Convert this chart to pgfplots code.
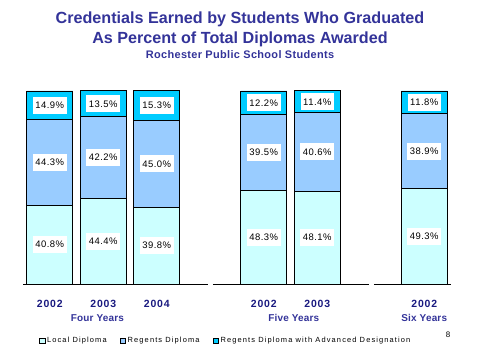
\documentclass[border=0pt]{standalone}
\usepackage{pgfplots}
\pgfplotsset{compat=1.18}
\usepackage{fontspec}
\setmainfont{Liberation Sans}
\definecolor{titleblue}{HTML}{333399}
\definecolor{yearblue}{HTML}{1A1A80}
\definecolor{localc}{HTML}{CCFFFF}
\definecolor{regc}{HTML}{99CCFF}
\definecolor{advc}{HTML}{00CCFF}
\begin{document}
\begin{tikzpicture}[x=1bp,y=1bp]
\path[use as bounding box] (0,0) rectangle (480,360);
\node[font=\bfseries\fontsize{16.2}{18}\selectfont, text=titleblue] at (240,341) {Credentials Earned by Students Who Graduated};
\node[font=\bfseries\fontsize{16.2}{18}\selectfont, text=titleblue] at (240,321) {As Percent of Total Diplomas Awarded};
\node[font=\bfseries\fontsize{11}{12}\selectfont\addfontfeature{LetterSpace=3}, text=titleblue] at (240,305) {Rochester Public School Students};
\node[font=\fontsize{8}{9}\selectfont] at (448,25) {8};
\begin{axis}[
  at={(23bp,76bp)}, anchor=south west,
  scale only axis, width=428bp, height=193bp,
  ybar stacked, bar width=46bp,
  xmin=-0.5, xmax=7.5, ymin=0, ymax=100,
  axis lines=none, clip=false,
  xtick=\empty, ytick=\empty,
  legend columns=3,
  legend style={draw=none, fill=none, at={(0.03,-0.295)}, anchor=west, font=\fontsize{7.5}{8}\selectfont\addfontfeature{LetterSpace=15}, /tikz/every even column/.append style={column sep=11bp}},
  legend image code/.code={\draw[#1,draw=black,line width=0.5bp] (0bp,-2.5bp) rectangle (5.5bp,2.5bp);},
]
\addplot[fill=localc, draw=black, line width=0.8bp] coordinates {(0,40.8) (1,44.4) (2,39.8) (4,48.3) (5,48.1) (7,49.3)};
\addplot[fill=regc, draw=black, line width=0.8bp] coordinates {(0,44.3) (1,42.2) (2,45.0) (4,39.5) (5,40.6) (7,38.9)};
\addplot[fill=advc, draw=black, line width=0.8bp] coordinates {(0,14.9) (1,13.5) (2,15.3) (4,12.2) (5,11.4) (7,11.8)};
\legend{Local Diploma, Regents Diploma, Regents Diploma with Advanced Designation}
\draw[black, line width=0.8bp] (axis cs:-0.5,0) -- (axis cs:2.96,0);
\draw[black, line width=0.8bp] (axis cs:3.05,0) -- (axis cs:5.97,0);
\draw[black, line width=0.8bp] (axis cs:6.06,0) -- (axis cs:7.5,0);
\node[font=\bfseries\fontsize{10.5}{12}\selectfont\addfontfeature{LetterSpace=8}, text=yearblue] at (axis cs:0,-10.2) {2002};
\node[font=\bfseries\fontsize{10.5}{12}\selectfont\addfontfeature{LetterSpace=8}, text=yearblue] at (axis cs:1,-10.2) {2003};
\node[font=\bfseries\fontsize{10.5}{12}\selectfont\addfontfeature{LetterSpace=8}, text=yearblue] at (axis cs:2,-10.2) {2004};
\node[font=\bfseries\fontsize{10.5}{12}\selectfont\addfontfeature{LetterSpace=8}, text=yearblue] at (axis cs:4,-10.2) {2002};
\node[font=\bfseries\fontsize{10.5}{12}\selectfont\addfontfeature{LetterSpace=8}, text=yearblue] at (axis cs:5,-10.2) {2003};
\node[font=\bfseries\fontsize{10.5}{12}\selectfont\addfontfeature{LetterSpace=8}, text=yearblue] at (axis cs:7,-10.2) {2002};
\node[font=\bfseries\fontsize{10}{11}\selectfont\addfontfeature{LetterSpace=2}, text=titleblue] at (axis cs:0.89,-17.6) {Four Years};
\node[font=\bfseries\fontsize{10}{11}\selectfont\addfontfeature{LetterSpace=2}, text=titleblue] at (axis cs:4.56,-17.6) {Five Years};
\node[font=\bfseries\fontsize{10}{11}\selectfont\addfontfeature{LetterSpace=2}, text=titleblue] at (axis cs:7,-17.6) {Six Years};
\end{axis}
\begin{axis}[
  at={(23bp,76bp)}, anchor=south west,
  scale only axis, width=428bp, height=193bp,
  xmin=-0.5, xmax=7.5, ymin=0, ymax=100,
  axis lines=none, clip=false,
  xtick=\empty, ytick=\empty,
  point meta=explicit symbolic,
  nodes near coords,
  nodes near coords align=center,
  every node near coord/.style={anchor=center, fill=white, inner sep=2.5bp, minimum height=17bp, minimum width=31bp, text=black, font=\fontsize{9.5}{10}\selectfont\addfontfeature{LetterSpace=5}},
]
\addplot[only marks, mark=none] coordinates {
 (0,20.4) [40.8\%] (0,62.95) [44.3\%] (0,92.55) [14.9\%]
 (1,22.2) [44.4\%] (1,65.5) [42.2\%] (1,93.35) [13.5\%]
 (2,19.9) [39.8\%] (2,62.3) [45.0\%] (2,92.45) [15.3\%]
 (4,24.15) [48.3\%] (4,68.05) [39.5\%] (4,93.9) [12.2\%]
 (5,24.05) [48.1\%] (5,68.4) [40.6\%] (5,94.4) [11.4\%]
 (7,24.65) [49.3\%] (7,68.75) [38.9\%] (7,94.1) [11.8\%]
};
\end{axis}
\end{tikzpicture}
\end{document}
